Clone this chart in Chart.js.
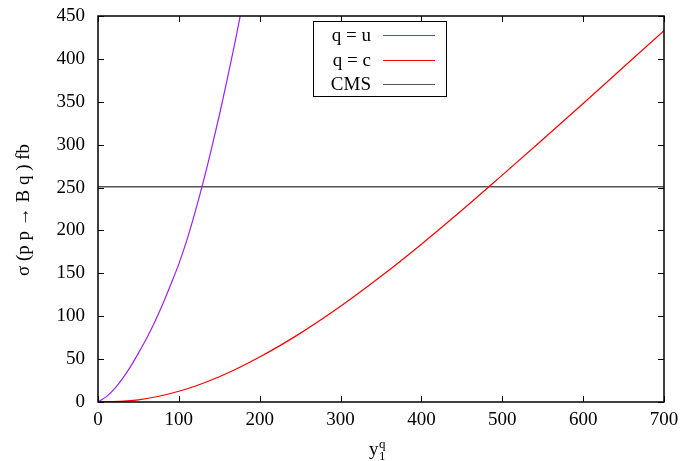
<!DOCTYPE html>
<html>
<head>
<meta charset="utf-8">
<script src="https://cdn.jsdelivr.net/npm/chart.js@4.4.1/dist/chart.umd.min.js"></script>
<style>
  html, body { margin: 0; padding: 0; background: #fff; }
  #wrap { width: 681px; height: 461px; }
</style>
</head>
<body>
<div id="wrap"><canvas id="chart" width="681" height="461"></canvas></div>
<script>
// q = u curve
const uX = [0, 10, 20, 30, 40, 50, 60, 70, 80, 90, 100, 110, 120, 130, 140, 150, 160, 170, 180];
const uY = [0, 6, 15, 27, 41, 57, 74, 93, 114, 137, 161, 189, 221, 256, 294, 334, 377, 422, 470];
// q = c curve
const cX = [0, 50, 100, 150, 200, 250, 300, 350, 400, 450, 500, 550, 600, 650, 700];
const cY = [0, 2.5, 12.5, 29.5, 52.5, 80, 111.5, 146.5, 184, 223.5, 264.5, 306, 348, 390.5, 433];
// CMS limit
const cmsX = [0, 700];
const cmsY = [251, 251];

const xTicks = [0, 100, 200, 300, 400, 500, 600, 700];
const yTicks = [0, 50, 100, 150, 200, 250, 300, 350, 400, 450];

const FONT = "'Liberation Serif', 'Times New Roman', serif";

function pts(xs, ys) {
    return xs.map((x, i) => ({ x: x, y: ys[i] }));
}

// gnuplot style frame, inward ticks, key box and axis titles
const gnuplotLook = {
    id: 'gnuplotLook',
    afterDatasetsDraw(chart) {
        const ctx = chart.ctx;
        const a = chart.chartArea;
        const xs = chart.scales.x, ys = chart.scales.y;
        ctx.save();
        ctx.strokeStyle = '#000';
        ctx.lineWidth = 1;
        // ticks, mirrored on all sides
        ctx.beginPath();
        xTicks.forEach(v => {
            const px = Math.round(xs.getPixelForValue(v)) + 0.5;
            ctx.moveTo(px, a.bottom); ctx.lineTo(px, a.bottom - 6);
            ctx.moveTo(px, a.top); ctx.lineTo(px, a.top + 6);
        });
        yTicks.forEach(v => {
            const py = Math.round(ys.getPixelForValue(v)) + 0.5;
            ctx.moveTo(a.left, py); ctx.lineTo(a.left + 6, py);
            ctx.moveTo(a.right, py); ctx.lineTo(a.right - 6, py);
        });
        ctx.stroke();
        // frame
        ctx.lineWidth = 1.5;
        ctx.strokeRect(a.left, a.top, a.right - a.left, a.bottom - a.top);

        // key
        ctx.fillStyle = '#fff';
        ctx.fillRect(313, 21, 134, 76);
        ctx.lineWidth = 1;
        ctx.strokeStyle = '#000';
        ctx.strokeRect(313.5, 21.5, 133, 75);
        ctx.font = '19px ' + FONT;
        ctx.textAlign = 'right';
        ctx.textBaseline = 'middle';
        const rows = [35, 60, 84];
        chart.data.datasets.forEach((ds, i) => {
            ctx.fillStyle = '#000';
            ctx.fillText(ds.label, 371, rows[i] + 1);
            ctx.strokeStyle = ds.borderColor;
            ctx.lineWidth = 1.2;
            ctx.beginPath();
            ctx.moveTo(383, rows[i] + 0.5);
            ctx.lineTo(435, rows[i] + 0.5);
            ctx.stroke();
        });

        // y title
        ctx.fillStyle = '#000';
        ctx.save();
        ctx.translate(24, 210);
        ctx.rotate(-Math.PI / 2);
        ctx.textAlign = 'center';
        ctx.fillText('σ (p p → B q ) fb', 0, 0);
        ctx.restore();

        // x title: y with subscript 1 and superscript q
        ctx.textAlign = 'left';
        ctx.textBaseline = 'alphabetic';
        ctx.font = '19px ' + FONT;
        ctx.fillText('y', 369, 455);
        ctx.font = '13px ' + FONT;
        ctx.fillText('q', 379, 448);
        ctx.fillText('1', 379, 460);
        ctx.restore();
    }
};

new Chart(document.getElementById('chart'), {
    type: 'line',
    data: {
        datasets: [{
            label: 'q = u',
            data: pts(uX, uY),
            borderColor: '#a020f0',
            borderWidth: 1.2,
            pointRadius: 0,
            cubicInterpolationMode: 'monotone'
        }, {
            label: 'q = c',
            data: pts(cX, cY),
            borderColor: '#ff0000',
            borderWidth: 1.2,
            pointRadius: 0,
            cubicInterpolationMode: 'monotone'
        }, {
            label: 'CMS',
            data: pts(cmsX, cmsY),
            borderColor: '#555555',
            borderWidth: 1.5,
            pointRadius: 0
        }]
    },
    options: {
        responsive: false,
        animation: false,
        layout: { padding: { top: 16, right: 17, left: 0, bottom: 0 } },
        plugins: {
            legend: { display: false },
            tooltip: { enabled: false }
        },
        scales: {
            x: {
                type: 'linear',
                min: 0,
                max: 700,
                afterFit: s => { s.height = 59; s.paddingLeft = 0; s.paddingRight = 0; },
                afterBuildTicks: s => { s.ticks = xTicks.map(v => ({ value: v })); },
                grid: { display: false, drawTicks: false },
                border: { display: false },
                ticks: {
                    padding: 7,
                    color: '#000',
                    font: { family: FONT, size: 19 }
                }
            },
            y: {
                type: 'linear',
                min: 0,
                max: 450,
                afterFit: s => { s.width = 98; s.paddingTop = 0; s.paddingBottom = 0; },
                afterBuildTicks: s => { s.ticks = yTicks.map(v => ({ value: v })); },
                grid: { display: false, drawTicks: false },
                border: { display: false },
                ticks: {
                    padding: 13,
                    color: '#000',
                    font: { family: FONT, size: 19 }
                }
            }
        }
    },
    plugins: [gnuplotLook]
});
</script>
</body>
</html>
